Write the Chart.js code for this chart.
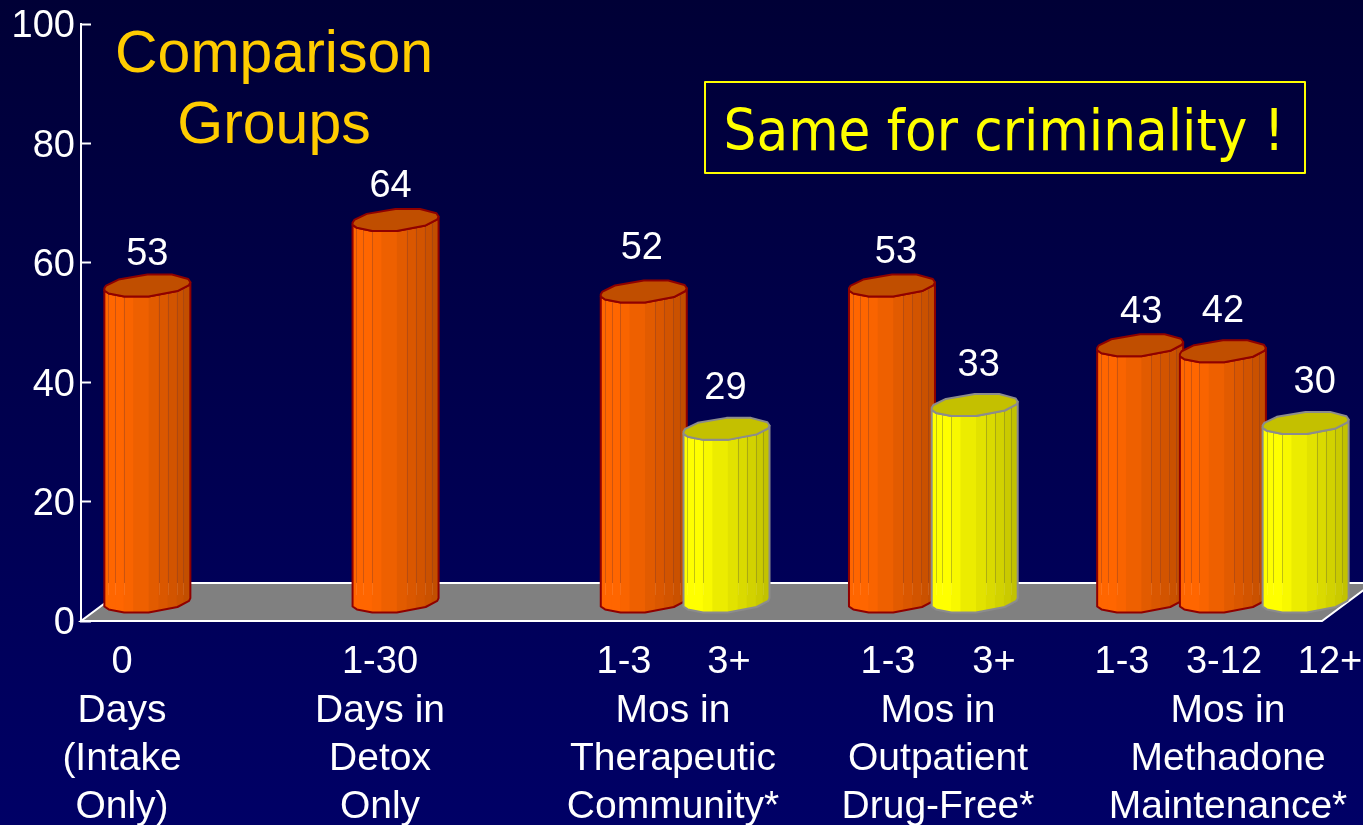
<!DOCTYPE html>
<html>
<head>
<meta charset="utf-8">
<style>
html, body { margin: 0; padding: 0; background: #000050; overflow: hidden; }
#wrap { width: 1363px; height: 825px; position: relative; }
</style>
<script src="https://cdn.jsdelivr.net/npm/chart.js@4"></script>
</head>
<body>
<div id="wrap"><canvas id="myChart" width="1363" height="825"></canvas></div>
<script>
// 15 slots on the x axis, the empty ones are the gaps between groups
const slots = ['0', '', '', '1-30', '', '', '1-3', '3+', '', '1-3', '3+', '', '1-3', '3-12', '12+']
const comparison = [53, null, null, 64, null, null, 52, null, null, 53, null, null, 43, 42, null]
const treated = [null, null, null, null, null, null, null, 29, null, null, 33, null, null, null, 30]
const yTicks = [0, 20, 40, 60, 80, 100]

const tickRow = ['0', '1-30', '1-3', '3+', '1-3', '3+', '1-3', '3-12', '12+']
const tickRowX = [122, 380, 624, 729, 888, 994, 1122, 1224, 1330]
const groupLines = [
    ['Days', '(Intake', 'Only)'],
    ['Days in', 'Detox', 'Only'],
    ['Mos in', 'Therapeutic', 'Community*'],
    ['Mos in', 'Outpatient', 'Drug-Free*'],
    ['Mos in', 'Methadone', 'Maintenance*'],
]
const groupX = [122, 380, 673, 938, 1228]
const titleLines = ['Comparison', 'Groups']
const noteText = 'Same for criminality !'

// hand placed value labels in the original, nudges from the bar top
const labelNudge = {0: [0, -1], 3: [-5, -3], 6: [-2, -13], 7: [-1, -10], 9: [4, -3], 10: [4, -9], 12: [1, -3], 13: [0, -10], 14: [9, -10]}

const DEPTH_X = 25, DEPTH_Y = 19   // bars stand in the middle of the floor
const FLOOR_X = 51, FLOOR_Y = 38
const CAP_H = 11

// outline of the cap, normalised
const capBack = [[-1, .25], [-.96, 0], [-.67, -.55], [0, -1], [.57, -1], [.95, -.6], [1, -.3]]
const capFront = [[.97, -.05], [.7, .5], [.03, 1], [-.54, 1], [-.9, .72], [-1, .45]]
const facets = [-1, -.91, -.75, -.55, -.33, .03, .26, .47, .68, .84, 1]
const orange = {shades: ['#ff6600', '#ff6600', '#ff6600', '#f96400', '#ee6000', '#e25b00', '#da5700', '#d25400', '#ca5100', '#c24e00'], cap: '#c04e00', line: '#8f0000', seam: 'rgba(130,60,40,0.4)'}
const yellow = {shades: ['#ffff00', '#ffff00', '#ffff00', '#f8f800', '#ecec00', '#e2e200', '#dada00', '#d2d200', '#caca00', '#c2c200'], cap: '#c4c000', line: '#8c8c8c', seam: 'rgba(120,120,40,0.45)'}

function drawCylinder(ctx, bar, look, floorBack) {
    const cx = bar.x + DEPTH_X
    const half = bar.width / 2
    const top = bar.y - DEPTH_Y
    const bottom = bar.base - DEPTH_Y
    const px = (p) => cx + p[0] * half
    const py = (p, y) => y + p[1] * CAP_H

    const sideOutline = () => {
        ctx.beginPath()
        const right = capBack[capBack.length - 1]
        ctx.moveTo(px(right), py(right, top))
        ctx.lineTo(px(right), py(right, bottom))
        capFront.forEach((p) => ctx.lineTo(px(p), py(p, bottom)))
        capFront.slice().reverse().forEach((p) => ctx.lineTo(px(p), py(p, top)))
        ctx.closePath()
    }

    ctx.save()
    sideOutline()
    ctx.clip()
    facets.slice(0, -1).forEach((f, i) => {
        ctx.fillStyle = look.shades[i]
        ctx.fillRect(cx + f * half, top - CAP_H, (facets[i + 1] - f) * half + 1, bottom - top + CAP_H * 3)
    })
    ctx.lineWidth = 1
    facets.slice(1, -1).forEach((f, i) => {
        if (i === 3 || i === 4) return
        const sx = Math.round(cx + f * half) + .5
        ctx.strokeStyle = look.seam
        ctx.beginPath()
        ctx.moveTo(sx, top - CAP_H)
        ctx.lineTo(sx, floorBack)
        ctx.stroke()
        ctx.strokeStyle = 'rgba(255,255,255,0.1)'
        ctx.beginPath()
        ctx.moveTo(sx, floorBack)
        ctx.lineTo(sx, floorBack + 12)
        ctx.stroke()
    })
    ctx.restore()

    ctx.strokeStyle = look.line
    ctx.lineWidth = 2
    ctx.lineJoin = 'round'
    sideOutline()
    ctx.stroke()

    ctx.beginPath()
    capBack.concat(capFront).forEach((p, i) => i ? ctx.lineTo(px(p), py(p, top)) : ctx.moveTo(px(p), py(p, top)))
    ctx.closePath()
    ctx.fillStyle = look.cap
    ctx.fill()
    ctx.stroke()
}

const background = {
    id: 'background',
    beforeDraw(chart) {
        const ctx = chart.ctx
        const g = ctx.createLinearGradient(0, 0, 0, chart.height)
        g.addColorStop(0, '#000036')
        g.addColorStop(1, '#000066')
        ctx.fillStyle = g
        ctx.fillRect(0, 0, chart.width, chart.height)
    }
}

const floor = {
    id: 'floor',
    beforeDatasetsDraw(chart) {
        const ctx = chart.ctx
        const a = chart.chartArea
        const zero = chart.scales.y.getPixelForValue(0)
        ctx.save()
        ctx.beginPath()
        ctx.moveTo(a.left, zero)
        ctx.lineTo(a.right, zero)
        ctx.lineTo(a.right + FLOOR_X, zero - FLOOR_Y)
        ctx.lineTo(a.left + FLOOR_X, zero - FLOOR_Y)
        ctx.closePath()
        ctx.fillStyle = '#808080'
        ctx.fill()
        ctx.strokeStyle = '#ffffff'
        ctx.lineWidth = 2
        ctx.stroke()
        ctx.restore()
    }
}

const cylinders = {
    id: 'cylinders',
    afterDatasetsDraw(chart) {
        const ctx = chart.ctx
        const looks = [orange, yellow]
        const floorBack = chart.scales.y.getPixelForValue(0) - FLOOR_Y
        slots.forEach((s, i) => {
            chart.data.datasets.forEach((ds, d) => {
                if (ds.data[i] === null) return
                drawCylinder(ctx, chart.getDatasetMeta(d).data[i], looks[d], floorBack)
            })
        })
    }
}

const texts = {
    id: 'texts',
    afterDraw(chart) {
        const ctx = chart.ctx
        ctx.save()
        ctx.textAlign = 'center'
        ctx.textBaseline = 'middle'

        // values over the bars
        ctx.fillStyle = '#ffffff'
        ctx.font = '38px "Liberation Sans", Arial, sans-serif'
        slots.forEach((s, i) => {
            chart.data.datasets.forEach((ds, d) => {
                if (ds.data[i] === null) return
                const bar = chart.getDatasetMeta(d).data[i]
                const n = labelNudge[i]
                ctx.fillText(ds.data[i], bar.x + DEPTH_X + n[0], bar.y - DEPTH_Y - CAP_H - 19 + n[1])
            })
        })

        // category rows
        tickRow.forEach((t, i) => ctx.fillText(t, tickRowX[i], 663))
        ctx.font = '39px "Liberation Sans", Arial, sans-serif'
        groupLines.forEach((lines, i) => {
            lines.forEach((t, j) => ctx.fillText(t, groupX[i], 711 + j * 48))
        })

        // title
        ctx.fillStyle = '#ffcc00'
        ctx.font = '59px "Liberation Sans", Arial, sans-serif'
        ctx.textBaseline = 'alphabetic'
        ctx.fillText(titleLines[0], 274, 72)
        ctx.fillText(titleLines[1], 274, 143)

        // note box
        ctx.strokeStyle = '#ffff00'
        ctx.lineWidth = 2
        ctx.strokeRect(705, 82, 600, 91)
        ctx.fillStyle = '#ffff00'
        ctx.font = '57.5px "DejaVu Sans Condensed", "DejaVu Sans", sans-serif'
        ctx.fillText(noteText, 1004, 150)
        ctx.restore()
    }
}

new Chart(document.getElementById('myChart'), {
    type: 'bar',
    data: {
        labels: slots,
        datasets: [
            {label: 'Comparison', data: comparison, backgroundColor: 'transparent', barThickness: 86, grouped: false},
            {label: 'Treated', data: treated, backgroundColor: 'transparent', barThickness: 86, grouped: false},
        ],
    },
    options: {
        responsive: false,
        animation: false,
        layout: {padding: {top: 24, right: 41, bottom: 204, left: 0}},
        plugins: {legend: {display: false}, tooltip: {enabled: false}},
        scales: {
            x: {
                grid: {display: false},
                border: {display: false},
                ticks: {display: false},
                afterFit: (axis) => { axis.height = 0 },
            },
            y: {
                min: 0,
                max: 100,
                afterFit: (axis) => { axis.width = 81; axis.paddingTop = 0; axis.paddingBottom = 0 },
                afterBuildTicks: (axis) => { axis.ticks = yTicks.map((v) => ({value: v})) },
                border: {color: '#ffffff', width: 2},
                grid: {drawOnChartArea: false, color: '#ffffff', tickColor: '#ffffff', tickWidth: 2, tickLength: -10},
                ticks: {color: '#ffffff', padding: 16, labelOffset: 3, font: {family: '"Liberation Sans", Arial, sans-serif', size: 38}},
            },
        },
    },
    plugins: [background, floor, cylinders, texts],
})
</script>
</body>
</html>
